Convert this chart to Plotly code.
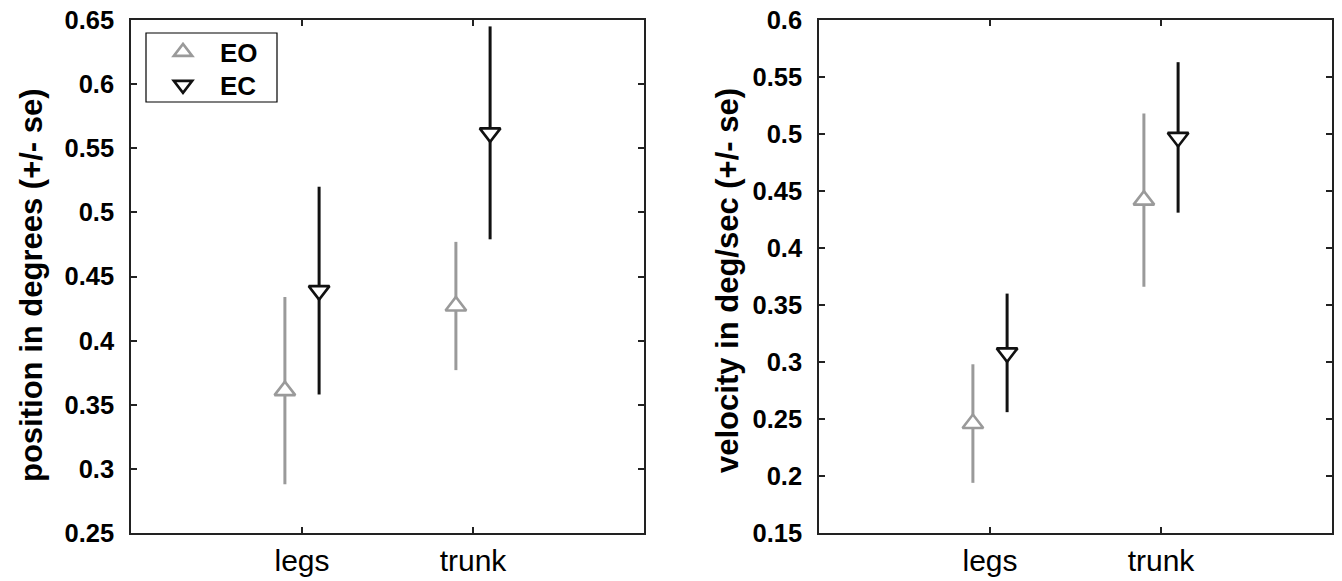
import plotly.graph_objects as go

# Body segments on the x axis and the two visual conditions
categories = ["legs", "trunk"]
conditions = ["EO", "EC"]

# Sway position (degrees): means and standard errors
position_eo = [0.361, 0.427]
position_eo_se = [0.073, 0.050]
position_ec = [0.439, 0.562]
position_ec_se = [0.081, 0.083]

# Sway velocity (deg/sec): means and standard errors
velocity_eo = [0.246, 0.442]
velocity_eo_se = [0.052, 0.076]
velocity_ec = [0.308, 0.497]
velocity_ec_se = [0.052, 0.066]

# Tick labels for the two y axes
position_ticks = ["0.25", "0.3", "0.35", "0.4", "0.45", "0.5", "0.55", "0.6", "0.65"]
velocity_ticks = ["0.15", "0.2", "0.25", "0.3", "0.35", "0.4", "0.45", "0.5", "0.55", "0.6"]

W, H = 1342, 581
FONT = "Liberation Sans"
GREY = "#9a9a9a"
DARK = "#111111"
AXIS = "#222222"

x_base = list(range(1, len(categories) + 1))
shift = 0.1
x_eo = [x - shift for x in x_base]
x_ec = [x + shift for x in x_base]

fig = go.Figure()


def add_series(xs, ys, se, name, color, symbol, xa, ya, legend):
    fig.add_trace(go.Scatter(
        x=xs, y=ys, mode="markers", name=name,
        showlegend=legend is not None, legend=legend or "legend",
        xaxis=xa, yaxis=ya,
        marker=dict(symbol=symbol, size=18, color="white",
                    line=dict(color=color, width=2.6)),
        error_y=dict(type="data", array=se, visible=True,
                     color=color, thickness=3, width=0),
    ))


# each condition gets its own one-entry legend so the rows can be spaced freely
add_series(x_eo, position_eo, position_eo_se, conditions[0], GREY, "triangle-up", "x", "y", "legend")
add_series(x_ec, position_ec, position_ec_se, conditions[1], DARK, "triangle-down", "x", "y", "legend2")
add_series(x_eo, velocity_eo, velocity_eo_se, conditions[0], GREY, "triangle-up", "x2", "y2", None)
add_series(x_ec, velocity_ec, velocity_ec_se, conditions[1], DARK, "triangle-down", "x2", "y2", None)


def px(v):
    return v / W


def py(v):
    return 1 - v / H


top, bottom = 20, 533
left_panel = (131, 644)
right_panel = (819, 1332)

common_x = dict(
    range=[0, len(categories) + 1], tickvals=x_base, ticktext=categories,
    showline=True, mirror="ticks", linecolor=AXIS, linewidth=1.6,
    ticks="inside", ticklen=6, tickwidth=1.6, tickcolor=AXIS,
    showgrid=False, zeroline=False, fixedrange=True, automargin=False,
    tickfont=dict(family=FONT, size=30, color="black"),
    ticklabelstandoff=0,
)
common_y = dict(
    showline=True, mirror="ticks", linecolor=AXIS, linewidth=1.6,
    ticks="inside", ticklen=6, tickwidth=1.6, tickcolor=AXIS,
    showgrid=False, zeroline=False, fixedrange=True, automargin=False,
    tickfont=dict(family=FONT, size=25.5, color="black", weight="bold"),
    ticklabelstandoff=10,
)

legend_style = dict(
    xanchor="left", yanchor="middle", x=px(146),
    bgcolor="rgba(0,0,0,0)", borderwidth=0, itemwidth=64,
    font=dict(family=FONT, size=26, color="black", weight="bold"),
)

fig.update_layout(
    template="none",
    width=W, height=H,
    margin=dict(l=0, r=0, t=0, b=0, autoexpand=False),
    paper_bgcolor="white", plot_bgcolor="white",
    xaxis=dict(domain=[px(left_panel[0]), px(left_panel[1])], anchor="y", **common_x),
    xaxis2=dict(domain=[px(right_panel[0]), px(right_panel[1])], anchor="y2", **common_x),
    yaxis=dict(domain=[py(bottom), py(top)], anchor="x", range=[0.25, 0.65],
               tickvals=[float(t) for t in position_ticks], ticktext=position_ticks, **common_y),
    yaxis2=dict(domain=[py(bottom), py(top)], anchor="x2", range=[0.15, 0.6],
                tickvals=[float(t) for t in velocity_ticks], ticktext=velocity_ticks, **common_y),
    legend=dict(y=py(52), **legend_style),
    legend2=dict(y=py(85), **legend_style),
    shapes=[
        # frame around the two legend rows
        dict(type="rect", xref="paper", yref="paper",
             x0=px(146), x1=px(277), y0=py(102), y1=py(33),
             line=dict(color="black", width=1.2), fillcolor="white", layer="above"),
    ],
    annotations=[
        dict(text="position in degrees (+/- se)", textangle=-90,
             x=px(31), y=py(285), xref="paper", yref="paper",
             showarrow=False, xanchor="center", yanchor="middle",
             font=dict(family=FONT, size=31, color="black", weight="bold")),
        dict(text="velocity in deg/sec (+/- se)", textangle=-90,
             x=px(727), y=py(281), xref="paper", yref="paper",
             showarrow=False, xanchor="center", yanchor="middle",
             font=dict(family=FONT, size=31, color="black", weight="bold")),
    ],
)

fig.write_html("out.html")
